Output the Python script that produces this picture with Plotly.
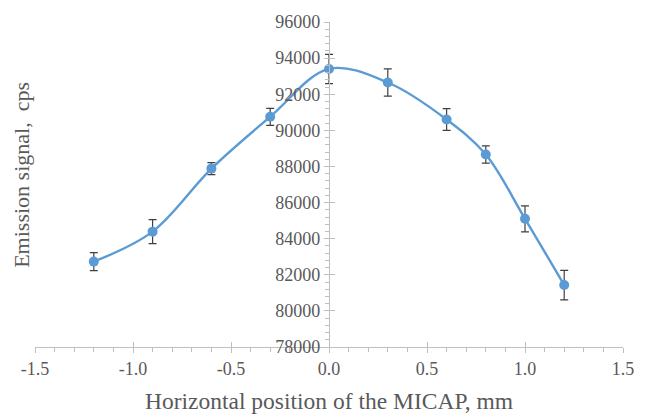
import plotly.graph_objects as go

x_pos = [-1.2, -0.9, -0.6, -0.3, 0.0, 0.3, 0.6, 0.8, 1.0, 1.2]
signal = [82730, 84390, 87880, 90750, 93400, 92650, 90600, 88660, 85100, 81430]
err = [500, 670, 330, 470, 810, 750, 600, 480, 720, 815]

x_ticks = [-1.5, -1.0, -0.5, 0.0, 0.5, 1.0, 1.5]
x_labels = ["-1.5", "-1.0", "-0.5", "0.0", "0.5", "1.0", "1.5"]
y_ticks = list(range(78000, 96001, 2000))

axis_col = "#bfbfbf"
font_fam = "Liberation Serif"
txt_col = "#595959"

fig = go.Figure()
fig.add_trace(go.Scatter(
    x=x_pos, y=signal, mode="lines+markers",
    line=dict(color="#5b9bd5", width=2.4, shape="spline", smoothing=1),
    marker=dict(color="#5b9bd5", size=10),
    error_y=dict(type="data", array=err, visible=True, color="#404040", thickness=1.2, width=4),
    showlegend=False,
))
fig.add_trace(go.Scatter(x=[0], y=[88000], xaxis="x2", yaxis="y2", mode="markers",
                         marker=dict(opacity=0), showlegend=False, hoverinfo="skip"))

tick_font = dict(size=18, color=txt_col, family=font_fam)

fig.update_layout(
    width=646, height=414,
    margin=dict(l=35, r=14, t=17, b=67),
    paper_bgcolor="white", plot_bgcolor="white",
    font=dict(family=font_fam, color=txt_col, size=18),
    xaxis=dict(
        range=[-1.5, 1.5], tickvals=x_ticks, ticktext=x_labels,
        showgrid=False, zeroline=False, showline=True, linecolor=axis_col, linewidth=1.3,
        ticks="outside", ticklen=5, tickcolor=axis_col, tickwidth=1.3,
        minor=dict(dtick=0.1, ticks="outside", ticklen=4, tickcolor=axis_col, tickwidth=1),
        tickfont=tick_font,
        anchor="y",
    ),
    yaxis=dict(
        range=[78000, 96000], tickvals=y_ticks, tickformat="d",
        showgrid=False, zeroline=False, showline=True, linecolor=axis_col, linewidth=1.3,
        ticks="outside", ticklen=5, tickcolor=axis_col, tickwidth=1.3,
        minor=dict(dtick=400, ticks="outside", ticklen=4, tickcolor=axis_col, tickwidth=1),
        tickfont=tick_font,
        anchor="free", position=0.5,
    ),
    xaxis2=dict(
        range=[-1.5, 1.5], tickvals=x_ticks, showticklabels=False,
        showgrid=False, zeroline=False, showline=False,
        ticks="inside", ticklen=5, tickcolor=axis_col, tickwidth=1.3,
        overlaying="x", anchor="y",
    ),
    yaxis2=dict(
        range=[78000, 96000], tickvals=y_ticks, showticklabels=False,
        showgrid=False, zeroline=False, showline=False,
        ticks="inside", ticklen=5, tickcolor=axis_col, tickwidth=1.3,
        overlaying="y", anchor="free", position=0.5,
    ),
    annotations=[
        dict(text="Horizontal position of the MICAP, mm", xref="paper", yref="paper",
             x=0.5, y=-0.165, xanchor="center", yanchor="middle", showarrow=False,
             font=dict(size=23.5, color=txt_col, family=font_fam)),
        dict(text="Emission signal,&nbsp; cps", xref="paper", yref="paper",
             x=-0.022, y=0.53, xanchor="center", yanchor="middle", textangle=-90, showarrow=False,
             font=dict(size=22, color=txt_col, family=font_fam)),
    ],
)

fig.write_html("out.html")
